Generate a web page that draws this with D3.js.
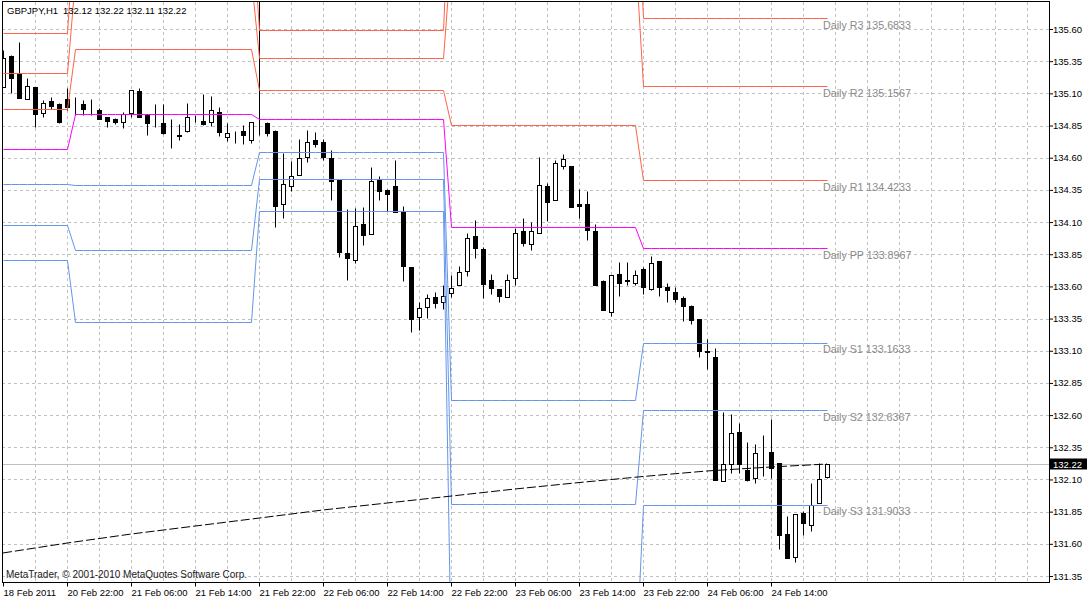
<!DOCTYPE html>
<html>
<head>
<meta charset="utf-8">
<script src="https://cdn.jsdelivr.net/npm/d3@7"></script>
<style>
body { margin: 0; background: #fff; }
text { font-family: "Liberation Sans", Arial, sans-serif; }
</style>
</head>
<body>
<script>
// GBPJPY H1 bars, 18 Feb 14:00 .. 24 Feb 21:00
var opens = [
  135.147, 135.390, 135.251, 135.057, 135.147, 134.951, 135.041, 135.016, 135.057, 135.008,
  135.018, 134.980, 134.972, 134.917, 134.902, 134.876, 134.946, 135.122, 134.943, 134.860,
  134.871, 134.778, 134.780, 134.804, 134.907, 134.886, 134.879, 134.959, 134.762, 134.798,
  134.809, 134.739, 134.873, 134.868, 134.809, 134.237, 134.379, 134.465, 134.604, 134.739,
  134.721, 134.597, 134.428, 133.860, 133.803, 134.085, 134.007, 134.428, 134.351, 134.382,
  134.183, 133.754, 133.363, 133.441, 133.518, 133.482, 133.550, 133.609, 133.717, 133.994,
  133.893, 133.653, 133.583, 133.518, 133.666, 134.033, 133.930, 134.015, 134.382, 134.268,
  134.532, 134.537, 134.240, 134.240, 134.033, 133.645, 133.399, 133.697, 133.653, 133.627,
  133.738, 133.580, 133.800, 133.593, 133.560, 133.510, 133.446, 133.350, 133.102, 133.053,
  132.088, 132.217, 132.471, 132.171, 132.114, 132.326, 132.311, 132.231, 131.680, 131.501,
  131.843, 131.750, 131.915, 132.120];
var highs = [
  135.437, 135.400, 135.497, 135.217, 135.150, 135.049, 135.075, 135.023, 135.145, 135.070,
  135.049, 135.054, 134.985, 134.920, 134.907, 134.959, 135.127, 135.140, 134.943, 135.016,
  135.016, 134.900, 134.860, 135.023, 134.933, 135.096, 135.083, 134.997, 134.868, 134.804,
  134.855, 134.876, 136.100, 134.875, 134.812, 134.635, 134.571, 134.747, 134.816, 134.796,
  134.744, 134.661, 134.430, 134.204, 134.209, 134.217, 134.529, 134.460, 134.360, 134.584,
  134.227, 133.754, 133.480, 133.544, 133.560, 133.614, 133.691, 133.761, 134.015, 134.118,
  133.906, 133.700, 133.583, 133.697, 134.054, 134.131, 134.103, 134.604, 134.403, 134.584,
  134.630, 134.537, 134.356, 134.343, 134.085, 133.653, 133.691, 133.790, 133.792, 133.730,
  133.750, 133.834, 133.800, 133.627, 133.593, 133.523, 133.459, 133.350, 133.195, 133.123,
  132.624, 132.605, 132.541, 132.393, 132.373, 132.442, 132.572, 132.231, 131.817, 131.835,
  131.855, 132.075, 132.231, 132.220];
var lows = [
  135.147, 135.106, 135.062, 135.057, 134.835, 134.915, 134.977, 134.873, 134.972, 134.933,
  134.933, 134.928, 134.900, 134.842, 134.860, 134.829, 134.920, 134.915, 134.775, 134.842,
  134.783, 134.674, 134.734, 134.796, 134.876, 134.855, 134.848, 134.765, 134.726, 134.713,
  134.708, 134.713, 134.778, 134.772, 134.061, 134.131, 134.338, 134.465, 134.563, 134.687,
  134.579, 134.268, 133.826, 133.647, 133.782, 133.919, 134.007, 134.273, 134.188, 134.175,
  133.640, 133.244, 133.260, 133.358, 133.430, 133.428, 133.515, 133.609, 133.679, 133.821,
  133.513, 133.542, 133.477, 133.518, 133.614, 133.917, 133.886, 134.015, 134.105, 134.268,
  134.514, 134.214, 134.131, 133.958, 133.614, 133.415, 133.368, 133.523, 133.614, 133.609,
  133.541, 133.575, 133.529, 133.480, 133.480, 133.329, 133.311, 133.050, 132.955, 132.096,
  132.088, 132.153, 132.153, 132.088, 132.075, 132.127, 132.114, 131.558, 131.493, 131.460,
  131.669, 131.700, 131.915, 132.110];
var closes = [
  135.372, 135.222, 135.062, 135.158, 134.943, 135.023, 135.005, 134.881, 134.997, 135.008,
  134.982, 134.980, 134.904, 134.886, 134.881, 134.938, 135.127, 134.915, 134.866, 134.860,
  134.790, 134.778, 134.765, 134.920, 134.907, 134.860, 134.972, 134.798, 134.790, 134.798,
  134.773, 134.876, 134.873, 134.790, 134.222, 134.395, 134.457, 134.597, 134.721, 134.703,
  134.602, 134.416, 133.865, 133.818, 134.069, 133.997, 134.421, 134.338, 134.315, 134.175,
  133.756, 133.345, 133.433, 133.510, 133.472, 133.523, 133.588, 133.712, 133.976, 133.898,
  133.622, 133.586, 133.524, 133.650, 134.015, 133.935, 134.033, 134.390, 134.253, 134.558,
  134.589, 134.214, 134.222, 134.036, 133.614, 133.415, 133.691, 133.624, 133.640, 133.689,
  133.593, 133.782, 133.596, 133.570, 133.503, 133.446, 133.337, 133.097, 133.094, 132.096,
  132.217, 132.463, 132.222, 132.096, 132.308, 132.326, 132.192, 131.669, 131.493, 131.835,
  131.765, 131.902, 132.101, 132.220];

var timeLabels = ['18 Feb 2011', '20 Feb 22:00', '21 Feb 06:00', '21 Feb 14:00', '21 Feb 22:00',
  '22 Feb 06:00', '22 Feb 14:00', '22 Feb 22:00', '23 Feb 06:00', '23 Feb 14:00',
  '23 Feb 22:00', '24 Feb 06:00', '24 Feb 14:00'];
var priceTicks = [131.35, 131.60, 131.85, 132.10, 132.35, 132.60, 132.85, 133.10,
  133.35, 133.60, 133.85, 134.10, 134.35, 134.60, 134.85, 135.10, 135.35, 135.60];

// daily pivot levels, one value per day segment
var dayStarts = [0, 9, 32, 56, 80];
var pivotR3 = [135.569, 136.500, 135.592, 136.990, 135.6833];
var pivotR2 = [135.259, 136.000, 135.372, 136.200, 135.1567];
var pivotR1 = [134.979, 135.445, 135.126, 134.855, 134.4233];
var pivotPP = [134.665, 134.937, 134.898, 134.059, 133.8967];
var pivotS1 = [134.396, 134.388, 134.647, 132.717, 133.1633];
var pivotS2 = [134.075, 133.883, 134.432, 131.910, 132.6367];
var pivotS3 = [133.805, 133.323, 134.186, 130.590, 131.9033];

// moving average read at every 8th bar
var maBars = [0, 8, 16, 24, 32, 40, 48, 56, 64, 72, 80, 88, 96, 103];
var maValues = [131.529, 131.606, 131.676, 131.738, 131.800, 131.863, 131.917,
  131.971, 132.026, 132.076, 132.123, 132.166, 132.197, 132.220];

var symbol = 'GBPJPY,H1';
var quote = '132.12 132.22 132.11 132.22';
var lastPrice = 132.22;

var width = 1087, height = 600;
var pl = 2, pt = 2, pr = 1049, pb = 582;

var svg = d3.select('body').append('svg')
   .attr('width', width)
   .attr('height', height);
svg.append('rect')
   .attr('width', width)
   .attr('height', height)
   .attr('fill', '#fff');
svg.append('defs').append('clipPath')
     .attr('id', 'clip')
   .append('rect')
     .attr('x', pl + 1)
     .attr('y', pt)
     .attr('width', pr - pl - 1)
     .attr('height', pb - pt);

var x = d3.scaleLinear().domain([0, 103]).range([3, 827]);
var y = d3.scaleLinear().domain([131.35, 135.60]).range([576, 29]);
function py(v) { return Math.round(y(v)) + 0.5; }

var plot = svg.append('g').attr('clip-path', 'url(#clip)');

// grid
plot.selectAll('line.hgrid')
   .data(priceTicks)
 .enter().append('line')
   .attr('class', 'hgrid')
   .attr('x1', pl).attr('x2', pr)
   .attr('y1', py).attr('y2', py)
   .attr('stroke', '#c0c0c0')
   .attr('stroke-dasharray', '3,3');
plot.selectAll('line.vgrid')
   .data(d3.range(4, 129, 4))
 .enter().append('line')
   .attr('class', 'vgrid')
   .attr('x1', function(d) { return x(d) + 0.5; })
   .attr('x2', function(d) { return x(d) + 0.5; })
   .attr('y1', pt).attr('y2', pb)
   .attr('stroke', '#c0c0c0')
   .attr('stroke-dasharray', '3,3');

// last price line
plot.append('line')
   .attr('x1', pl).attr('x2', pr)
   .attr('y1', py(lastPrice)).attr('y2', py(lastPrice))
   .attr('stroke', '#c0c0c0');

// candles
var bars = d3.range(opens.length);
var candle = plot.selectAll('g.bar')
   .data(bars)
 .enter().append('g')
   .attr('class', 'bar');
candle.append('line')
   .attr('x1', function(i) { return x(i) + 0.5; })
   .attr('x2', function(i) { return x(i) + 0.5; })
   .attr('y1', function(i) { return py(highs[i]); })
   .attr('y2', function(i) { return py(lows[i]); })
   .attr('stroke', '#000');
candle.append('rect')
   .attr('x', function(i) { return x(i) - 1.5; })
   .attr('width', 4)
   .attr('y', function(i) { return py(Math.max(opens[i], closes[i])); })
   .attr('height', function(i) {
      return py(Math.min(opens[i], closes[i])) - py(Math.max(opens[i], closes[i]));
   })
   .attr('fill', function(i) { return closes[i] >= opens[i] ? '#fff' : '#000'; })
   .attr('stroke', '#000');

// pivots
var pivots = [
  {name: 'R3', values: pivotR3, color: '#ff6347'},
  {name: 'R2', values: pivotR2, color: '#ff6347'},
  {name: 'R1', values: pivotR1, color: '#ff6347'},
  {name: 'PP', values: pivotPP, color: '#ff00ff'},
  {name: 'S1', values: pivotS1, color: '#6495ed'},
  {name: 'S2', values: pivotS2, color: '#6495ed'},
  {name: 'S3', values: pivotS3, color: '#6495ed'}
];
function dayOf(i) {
  var k = 0;
  dayStarts.forEach(function(s, j) { if (i >= s) k = j; });
  return k;
}
var pivotLine = d3.line()
   .x(function(d) { return x(d.i) + 0.5; })
   .y(function(d) { return py(d.v); });
pivots.forEach(function(p) {
  var pts = bars.map(function(i) { return {i: i, v: p.values[dayOf(i)]}; });
  plot.append('path')
     .attr('d', pivotLine(pts))
     .attr('fill', 'none')
     .attr('stroke', p.color);
});

// moving average
var maLine = d3.line()
   .x(function(d, k) { return x(maBars[k]); })
   .y(function(d) { return y(d); });
plot.append('path')
   .attr('d', maLine(maValues))
   .attr('fill', 'none')
   .attr('stroke', '#000')
   .attr('stroke-dasharray', '9,3');

// pivot labels
var lastDay = dayStarts.length - 1;
svg.selectAll('text.plabel')
   .data(pivots)
 .enter().append('text')
   .attr('class', 'plabel')
   .attr('x', 823)
   .attr('y', function(p) { return y(p.values[lastDay]) + 10.5; })
   .attr('font-size', '10.7px')
   .attr('fill', '#8a8a8a')
   .text(function(p) { return 'Daily ' + p.name + ' ' + d3.format('.4f')(p.values[lastDay]); });

// frame
svg.append('rect')
   .attr('x', pl + 0.5).attr('y', pt - 0.5)
   .attr('width', pr - pl).attr('height', pb - pt + 1)
   .attr('fill', 'none')
   .attr('stroke', '#000');

// price axis
var yAxis = svg.append('g')
   .attr('transform', 'translate(' + pr + ',0)')
   .call(d3.axisRight(y).tickValues(priceTicks).tickSize(4).tickPadding(0)
      .tickFormat(d3.format('.2f')));
yAxis.select('.domain').remove();
yAxis.selectAll('text')
   .attr('font-family', '"Liberation Sans", Arial, sans-serif')
   .attr('font-size', '9.5px');

// time axis
var xAxis = svg.append('g')
   .attr('transform', 'translate(0,' + (pb + 0.5) + ')')
   .call(d3.axisBottom(x).tickValues(d3.range(0, 97, 8)).tickSize(4).tickPadding(3)
      .tickFormat(function(d, k) { return timeLabels[k]; }));
xAxis.select('.domain').remove();
xAxis.selectAll('text')
   .attr('text-anchor', 'start')
   .attr('font-family', '"Liberation Sans", Arial, sans-serif')
   .attr('font-size', '9.5px');

// last price tag
svg.append('rect')
   .attr('x', 1050).attr('y', py(lastPrice) - 6)
   .attr('width', 37).attr('height', 11)
   .attr('fill', '#000');
svg.append('text')
   .attr('x', 1053).attr('y', py(lastPrice) + 3.5)
   .attr('font-size', '9.5px')
   .attr('fill', '#fff')
   .text(d3.format('.2f')(lastPrice));

// header and copyright
svg.append('text')
   .attr('x', 7).attr('y', 14)
   .attr('font-size', '9.5px')
   .text(symbol);
svg.append('text')
   .attr('x', 63).attr('y', 14)
   .attr('font-size', '9.5px')
   .text(quote);
svg.append('text')
   .attr('x', 6).attr('y', 578)
   .attr('font-size', '10px')
   .attr('fill', '#222')
   .text('MetaTrader, \u00a9 2001-2010 MetaQuotes Software Corp.');
</script>
</body>
</html>
